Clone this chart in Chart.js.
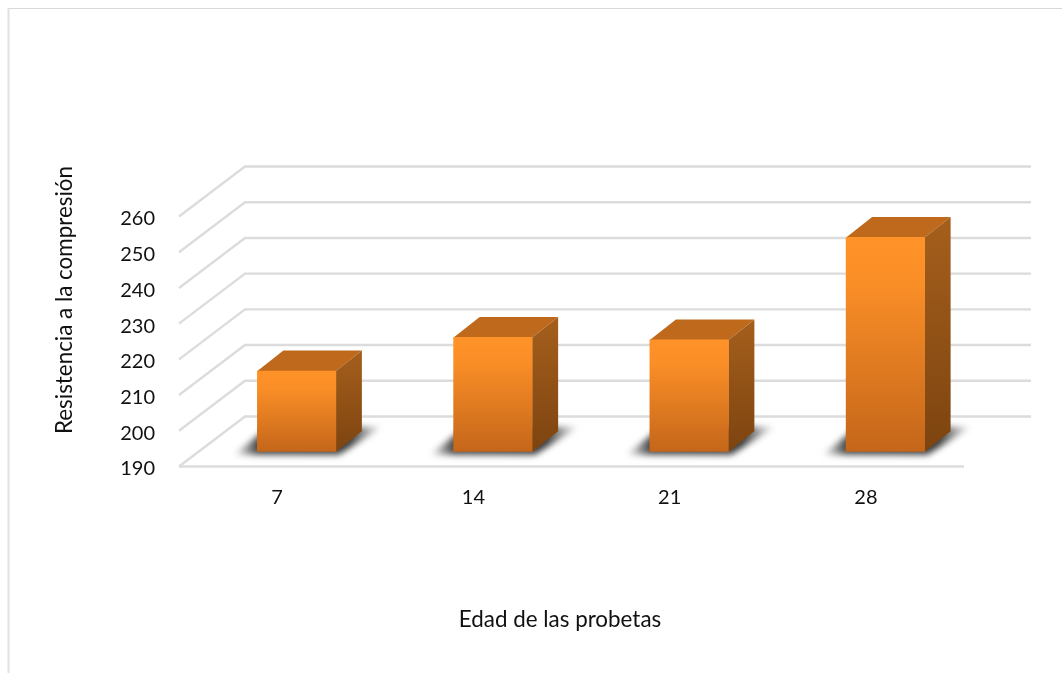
<!DOCTYPE html>
<html lang="es">
<head>
<meta charset="utf-8">
<title>Resistencia a la compresión</title>
<script src="https://cdn.jsdelivr.net/npm/chart.js@4"></script>
<style>
  html, body { margin: 0; padding: 0; background: #fff; overflow: hidden; }
  canvas { display: block; }
</style>
</head>
<body>
<canvas id="resistenciaChart" width="1062" height="673"></canvas>
<script>
const edades = ['7', '14', '21', '28'];
const resistencia = [212.6, 222, 221.3, 250];
const yMin = 190;
const yMax = 260;
const yStep = 10;
const tituloX = 'Edad de las probetas';
const tituloY = 'Resistencia a la compresión';

const fontFamily = 'Lato, "Open Sans", sans-serif';
const textColor = '#111';
const gridColor = '#dcdcdc';

// 3D offsets: back wall, and front face of the bars, relative to the axis plane
const wall = { dx: 66, dy: -50 };
const barFront = { dx: 19.5, dy: -14.8 };
const barDepth = { dx: 26, dy: -20.5 };

function polygon(ctx, pts, fill) {
  ctx.beginPath();
  pts.forEach((p, i) => (i ? ctx.lineTo(p[0], p[1]) : ctx.moveTo(p[0], p[1])));
  ctx.closePath();
  ctx.fillStyle = fill;
  ctx.fill();
}

function frontGradient(context) {
  const { chart, parsed } = context;
  if (!chart.chartArea || !parsed) return '#ff9228';
  const yScale = chart.scales.y;
  const g = chart.ctx.createLinearGradient(0, yScale.getPixelForValue(parsed.y), 0, yScale.bottom);
  g.addColorStop(0, '#ff9228');
  g.addColorStop(0.2, '#fb8f27');
  g.addColorStop(1, '#c4661a');
  return g;
}

const paredes = {
  id: 'paredes',
  beforeDraw(chart) {
    const { ctx, scales: { x, y } } = chart;
    ctx.save();
    // outer frame of the chart
    ctx.strokeStyle = '#d9d9d9';
    ctx.lineWidth = 1;
    ctx.beginPath();
    ctx.moveTo(chart.width, 8.5);
    ctx.lineTo(8.5, 8.5);
    ctx.stroke();
    ctx.strokeStyle = '#e2e2e2';
    ctx.lineWidth = 2;
    ctx.beginPath();
    ctx.moveTo(8.5, 8);
    ctx.lineTo(8.5, chart.height);
    ctx.stroke();

    ctx.strokeStyle = gridColor;
    ctx.lineWidth = 2.4;
    y.ticks.forEach(t => {
      const py = y.getPixelForValue(t.value);
      ctx.beginPath();
      ctx.moveTo(x.left, py);
      ctx.lineTo(x.left + wall.dx, py + wall.dy);
      ctx.lineTo(1031, py + wall.dy);
      ctx.stroke();
    });
    // front edge of the floor
    ctx.beginPath();
    ctx.moveTo(x.left, y.bottom);
    ctx.lineTo(x.right, y.bottom);
    ctx.stroke();
    ctx.restore();
  }
};

const barras3d = {
  id: 'barras3d',
  beforeDatasetDraw(chart, args) {
    const { ctx, scales: { y } } = chart;
    const bars = args.meta.data;

    // floor shadows go under every bar, fading towards both tips
    ctx.save();
    ctx.filter = 'blur(3px)';
    bars.forEach(b => {
      const half = b.width / 2;
      const l = b.x - half + barFront.dx;
      const r = b.x + half + barFront.dx;
      const base = y.bottom + barFront.dy;
      const fade = ctx.createLinearGradient(l - 24, 0, r + 47, 0);
      fade.addColorStop(0, 'rgba(50,50,50,0)');
      fade.addColorStop(0.16, 'rgba(40,40,40,0.85)');
      fade.addColorStop(0.78, 'rgba(40,40,40,0.9)');
      fade.addColorStop(1, 'rgba(60,60,60,0)');
      polygon(ctx, [
        [l - 24, base + 3],
        [r + 3, base + 3],
        [r + 47, base - 25],
        [l + 12, base - 25]
      ], fade);
    });
    ctx.restore();

    // top and side faces
    bars.forEach(b => {
      const half = b.width / 2;
      const l = b.x - half + barFront.dx;
      const r = b.x + half + barFront.dx;
      const t = b.y + barFront.dy;
      const base = y.bottom + barFront.dy;
      polygon(ctx, [
        [l, t],
        [l + barDepth.dx, t + barDepth.dy],
        [r + barDepth.dx, t + barDepth.dy],
        [r, t]
      ], '#bf691c');
      const side = ctx.createLinearGradient(0, t + barDepth.dy, 0, base);
      side.addColorStop(0, '#a55f1c');
      side.addColorStop(1, '#7d4410');
      polygon(ctx, [
        [r, t],
        [r + barDepth.dx, t + barDepth.dy],
        [r + barDepth.dx, base + barDepth.dy],
        [r, base]
      ], side);
    });

    // front faces are drawn by the bar controller, shifted to their depth
    ctx.save();
    ctx.translate(barFront.dx, barFront.dy);
  },
  afterDatasetDraw(chart) {
    chart.ctx.restore();
  },
  afterDraw(chart) {
    const { ctx } = chart;
    ctx.save();
    ctx.fillStyle = textColor;
    ctx.font = '22.4px ' + fontFamily;
    ctx.textAlign = 'center';
    ctx.textBaseline = 'middle';
    ctx.fillText(tituloX, 560, 620);
    ctx.translate(65, 300);
    ctx.rotate(-Math.PI / 2);
    ctx.fillText(tituloY, 0, 0);
    ctx.restore();
  }
};

new Chart(document.getElementById('resistenciaChart'), {
  type: 'bar',
  data: {
    labels: edades,
    datasets: [{
      data: resistencia,
      backgroundColor: frontGradient,
      borderWidth: 0,
      barThickness: 78.5
    }]
  },
  options: {
    responsive: false,
    animation: false,
    layout: { padding: { left: 0, right: 98, top: 216.5, bottom: 156.5 } },
    plugins: {
      legend: { display: false },
      tooltip: { enabled: false }
    },
    scales: {
      x: {
        afterFit: s => { s.height = 50; },
        grid: { display: false },
        border: { display: false },
        ticks: { color: textColor, padding: 11, maxRotation: 0, font: { family: fontFamily, size: 20 } }
      },
      y: {
        min: yMin,
        max: yMax,
        afterFit: s => { s.width = 179; },
        grid: { display: false },
        border: { display: false },
        ticks: { stepSize: yStep, color: textColor, padding: 16, labelOffset: 2.5, font: { family: fontFamily, size: 20 } }
      }
    }
  },
  plugins: [paredes, barras3d]
});
</script>
</body>
</html>
